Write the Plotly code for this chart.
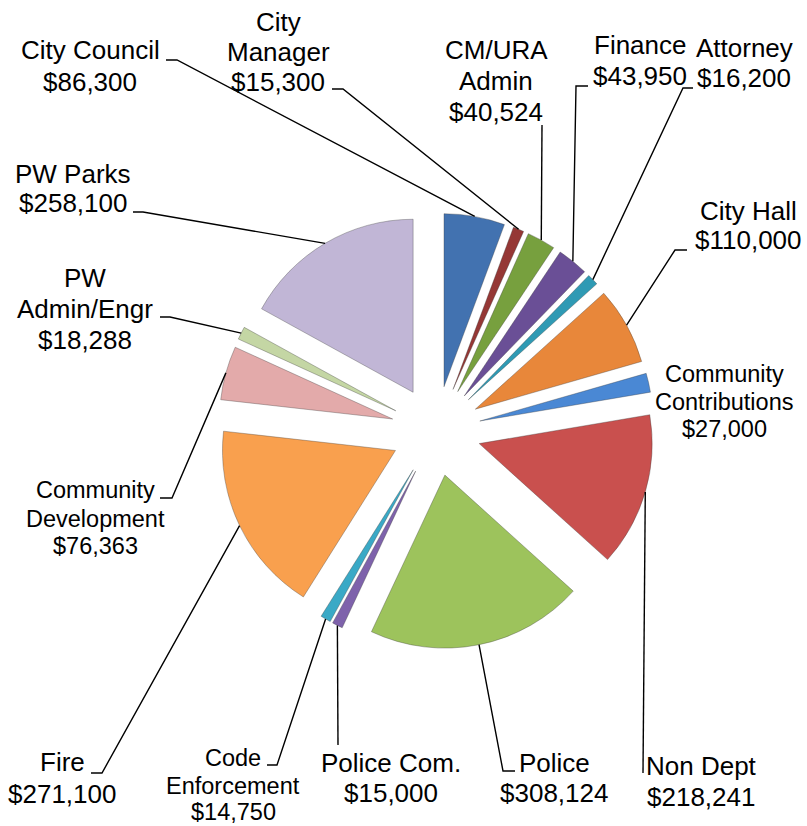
import math
import plotly.graph_objects as go

# ---------------- data ----------------
categories = ["City Council", "City Manager", "CM/URA Admin", "Finance", "Attorney",
              "City Hall", "Community Contributions", "Non Dept", "Police", "Police Com.",
              "Code Enforcement", "Fire", "Community Development", "PW Admin/Engr", "PW Parks"]
values = [86300, 15300, 40524, 43950, 16200,
          110000, 27000, 218241, 308124, 15000,
          14750, 271100, 76363, 18288, 258100]

# ---------------- styles / layout ----------------
colors = ["#4272B0", "#953735", "#77A03E", "#6A4F96", "#2F9AB4",
          "#E8873A", "#4A88D4", "#C9504E", "#9DC35C", "#7E62AB",
          "#3AA9C6", "#F9A04E", "#E3AAAA", "#C4D6A4", "#C1B6D6"]

W, H = 807, 826
CX, CY = 436, 431        # pie centre in pixels
HALF = 218               # half of pie box (radius * (1 + pull))
PULL = 0.26

# label name wrapping
wrap = {
    "City Manager": ["City", "Manager"],
    "CM/URA Admin": ["CM/URA", "Admin"],
    "Community Contributions": ["Community", "Contributions"],
    "Code Enforcement": ["Code", "Enforcement"],
    "Community Development": ["Community", "Development"],
    "PW Admin/Engr": ["PW", "Admin/Engr"],
}

# label placement: centre x, y of each line (pixels), font size, leader points near label
label_layout = {
    "City Council": (90, [50, 82], 26, [(166, 60), (177, 60)]),
    "City Manager": (278, [22, 52, 82], 26, [(332, 89), (343, 89)]),
    "CM/URA Admin": (496, [50, 81, 112], 26, [(542, 125)]),
    "Finance": (640, [45, 76], 26, [(588, 86), (576, 86)]),
    "Attorney": (744, [48, 78], 26, [(693, 88), (683, 88)]),
    "City Hall": (748, [211, 240], 26, [(687, 250), (675, 250)]),
    "Community Contributions": (724, [374, 402, 429], 23.5, []),
    "Non Dept": (701, [766, 797], 26, [(643, 773)]),
    "Police": (554, [763, 793], 26, [(515, 771), (503, 771)]),
    "Police Com.": (391, [763, 793], 26, [(338, 745)]),
    "Code Enforcement": (233, [758, 786, 812], 23.5, [(267, 765), (277, 765)]),
    "Fire": (62, [762, 794], 26, [(91, 773), (102, 773)]),
    "Community Development": (95, [490, 519, 546], 23.5, [(160, 498), (172, 498)]),
    "PW Admin/Engr": (85, [278, 309, 340], 26, [(160, 317), (170, 317)]),
    "PW Parks": (73, [174, 203], 26, [(133, 212), (143, 212)]),
}

FONT = "Liberation Sans, Arial, sans-serif"


def px(x):
    return x / W


def py(y):
    return 1 - y / H


fig = go.Figure()
fig.add_trace(go.Pie(
    labels=categories,
    values=values,
    sort=False,
    direction="clockwise",
    rotation=0,
    pull=[PULL] * len(values),
    marker=dict(colors=colors, line=dict(color="rgba(60,60,60,0.35)", width=1)),
    textinfo="none",
    hoverinfo="label+value",
    domain=dict(x=[px(CX - HALF), px(CX + HALF)], y=[py(CY + HALF), py(CY - HALF)]),
    showlegend=False,
))

# leader lines and labels
total = sum(values)
cum = 0.0
annotations = []
shapes = []
for name, val in zip(categories, values):
    mid = (cum + val / 2) / total * 2 * math.pi
    cum += val
    ax = CX + HALF * math.sin(mid)
    ay = CY - HALF * math.cos(mid)
    x, ys, size, pts = label_layout[name]
    lines = wrap.get(name, [name]) + ["${:,}".format(val)]
    for txt, yy in zip(lines, ys):
        annotations.append(dict(
            x=px(x), y=py(yy), xref="paper", yref="paper",
            text=txt, showarrow=False, xanchor="center", yanchor="middle",
            font=dict(family=FONT, size=size, color="#000000"),
        ))
    if pts:
        path_pts = pts + [(ax, ay)]
        d = "M {} {}".format(px(path_pts[0][0]), py(path_pts[0][1]))
        for (qx, qy) in path_pts[1:]:
            d += " L {} {}".format(px(qx), py(qy))
        shapes.append(dict(type="path", path=d, xref="paper", yref="paper",
                           line=dict(color="#000000", width=1.4)))

fig.update_layout(
    width=W, height=H,
    margin=dict(l=0, r=0, t=0, b=0, pad=0),
    paper_bgcolor="white", plot_bgcolor="white",
    annotations=annotations,
    shapes=shapes,
    showlegend=False,
)

fig.write_html(
    "out.html",
    config={"displayModeBar": False},
    post_script="document.body.style.margin='0';document.body.style.overflow='hidden';",
)
